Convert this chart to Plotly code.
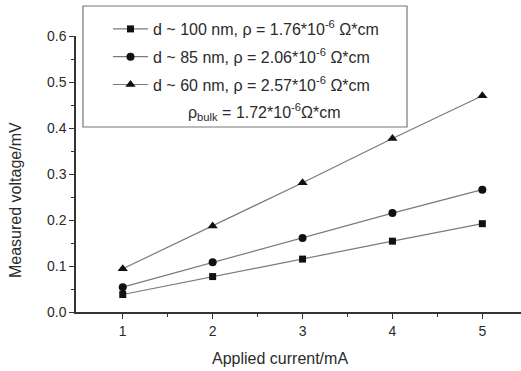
import plotly.graph_objects as go

current = [1, 2, 3, 4, 5]
v_100nm = [0.038, 0.077, 0.115, 0.154, 0.192]
v_85nm = [0.054, 0.108, 0.161, 0.215, 0.266]
v_60nm = [0.094, 0.187, 0.281, 0.377, 0.470]

names = [
    "d ~ 100 nm, \u03c1 = 1.76*10<sup>-6</sup> \u03a9*cm",
    "d ~ 85 nm, \u03c1 = 2.06*10<sup>-6</sup> \u03a9*cm",
    "d ~ 60 nm, \u03c1 = 2.57*10<sup>-6</sup> \u03a9*cm",
]
symbols = ["square", "circle", "triangle-up"]
msizes = [7, 8, 9]
series = [v_100nm, v_85nm, v_60nm]
bulk_text = "\u03c1<sub>bulk</sub> = 1.72*10<sup>-6</sup>\u03a9*cm"

x_ticks = [1, 2, 3, 4, 5]
y_ticks = [0.0, 0.1, 0.2, 0.3, 0.4, 0.5, 0.6]

FONT = "Liberation Sans, Arial, sans-serif"
TXT = "#2b2b2b"

fig = go.Figure()
for i, (n, s, ms, v) in enumerate(zip(names, symbols, msizes, series)):
    fig.add_trace(go.Scatter(
        x=current, y=v, name=n, mode="lines+markers", legendgroup=f"g{i}",
        line=dict(color="#7a7a7a", width=1.2),
        marker=dict(symbol=s, size=ms, color="#111111"),
    ))

L, R, T, B = 76, 0, 36, 59
W, H = 521, 371
pw, ph = W - L - R, H - T - B

def px(x):
    return (x - L) / pw

def py(y):
    return (H - B - y) / ph

fig.update_layout(
    width=W, height=H,
    margin=dict(l=L, r=R, t=T, b=B, pad=0),
    paper_bgcolor="white", plot_bgcolor="white",
    font=dict(family=FONT, color=TXT, size=14),
    showlegend=True,
    legend=dict(
        x=px(108), y=py(12), xanchor="left", yanchor="top",
        bgcolor="rgba(0,0,0,0)", borderwidth=0,
        font=dict(size=16, family=FONT, color=TXT),
        itemwidth=35, tracegroupgap=4, traceorder="grouped",
    ),
    xaxis=dict(
        range=[0.48, 5.43], tickvals=x_ticks, ticktext=[str(t) for t in x_ticks],
        showgrid=False, zeroline=False, showline=True, linecolor="#333333", linewidth=1.5,
        ticks="outside", ticklen=5, tickwidth=1.2, tickcolor="#333333",
        minor=dict(tickvals=[1.5, 2.5, 3.5, 4.5], ticks="outside", ticklen=3, tickcolor="#333333"),
        tickfont=dict(size=14), fixedrange=True,
    ),
    yaxis=dict(
        range=[0, 0.6], tickvals=y_ticks, ticktext=[f"{t:.1f}" for t in y_ticks],
        showgrid=False, zeroline=False, showline=True, linecolor="#333333", linewidth=1.5,
        ticks="outside", ticklen=5, tickwidth=1.2, tickcolor="#333333",
        minor=dict(tickvals=[0.05, 0.15, 0.25, 0.35, 0.45, 0.55], ticks="outside", ticklen=3, tickcolor="#333333"),
        tickfont=dict(size=14), fixedrange=True,
    ),
)

fig.add_shape(type="rect", xref="paper", yref="paper",
              x0=px(83), x1=px(407), y0=py(127), y1=py(6),
              line=dict(color="#777777", width=1.2), fillcolor="rgba(0,0,0,0)")

fig.add_annotation(xref="paper", yref="paper", x=px(186), y=py(112),
                   xanchor="left", yanchor="middle", showarrow=False,
                   text=bulk_text, font=dict(size=16, family=FONT, color=TXT))

fig.add_annotation(xref="paper", yref="paper", x=px(280), y=py(358),
                   xanchor="center", yanchor="middle", showarrow=False,
                   text="Applied current/mA", font=dict(size=16, family=FONT, color=TXT))
fig.add_annotation(xref="paper", yref="paper", x=px(15), y=py(200),
                   xanchor="center", yanchor="middle", showarrow=False, textangle=-90,
                   text="Measured voltage/mV", font=dict(size=16, family=FONT, color=TXT))

fig.write_html("out.html")
